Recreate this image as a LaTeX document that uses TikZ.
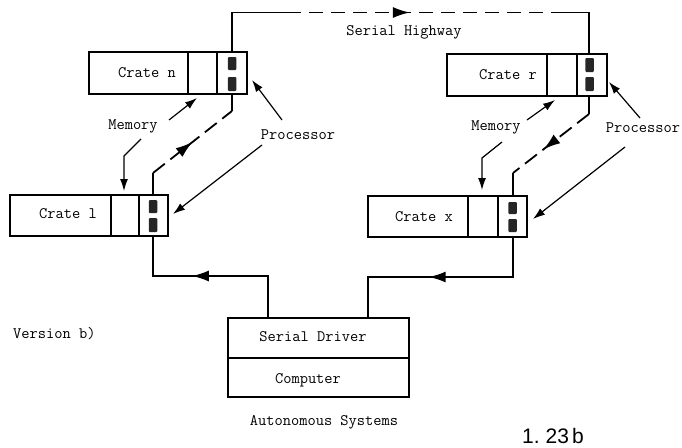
\documentclass[tikz,border=0pt]{standalone}
\usepackage{fontspec}
\newfontfamily\figfont{Liberation Sans}
\usetikzlibrary{arrows.meta,decorations.markings}
\begin{document}
\begin{tikzpicture}[x=1pt,y=-1pt,
  box/.style={draw,line width=1.3pt,inner sep=0pt},
  lbl/.style={font=\fontsize{16}{19}\selectfont\ttfamily,inner sep=0pt},
  port/.style={fill=black!85,rounded corners=1pt,minimum width=8.5pt,inner sep=0pt},
  wire/.style={line width=1.8pt},
  dwire/.style={wire,dash pattern=on 14pt off 8pt},
  ptr/.style={line width=1.2pt,-{Latex[length=12pt,width=8pt]}},
  midarrow/.style={postaction={decorate},decoration={markings,
    mark=at position #1 with {\arrow{Latex[length=17pt,width=11pt]}}}}
]
\useasboundingbox (0,0) rectangle (682,447);

% ---------- crates ----------
% Crate n
\node[box,minimum width=158pt,minimum height=42pt] (cn) at (168,73) {};
\node[box,minimum width=29pt,minimum height=42pt] (cnm) at (202.5,73) {};
\node[box,minimum width=30pt,minimum height=42pt] (cnp) at (232,73) {};
\node[lbl] (cnt) at (147,73) {Crate n};
\node[port,minimum height=13pt] (cnp1) at (232,63.5) {};
\node[port,minimum height=14pt] (cnp2) at (232,84) {};
% Crate r
\node[box,minimum width=160pt,minimum height=42pt] (cr) at (527,75) {};
\node[box,minimum width=30pt,minimum height=42pt] (crm) at (562,75) {};
\node[box,minimum width=30pt,minimum height=42pt] (crp) at (592,75) {};
\node[lbl] (crt) at (508,75) {Crate r};
\node[port,minimum height=14pt] (crp1) at (589.5,65) {};
\node[port,minimum height=14pt] (crp2) at (589.5,84) {};
% Crate 1
\node[box,minimum width=158pt,minimum height=41pt] (c1) at (89,215.5) {};
\node[box,minimum width=28pt,minimum height=41pt] (c1m) at (125,215.5) {};
\node[box,minimum width=29pt,minimum height=41pt] (c1p) at (153.5,215.5) {};
\node[lbl] (c1t) at (68,214) {Crate l};
\node[port,minimum height=13pt] (c1p1) at (153,206.5) {};
\node[port,minimum height=14pt] (c1p2) at (153,225) {};
% Crate x
\node[box,minimum width=159pt,minimum height=41pt] (cx) at (447.5,216.5) {};
\node[box,minimum width=30pt,minimum height=41pt] (cxm) at (483,216.5) {};
\node[box,minimum width=29pt,minimum height=41pt] (cxp) at (512.5,216.5) {};
\node[lbl] (cxt) at (424,217) {Crate x};
\node[port,minimum height=12pt] (cxp1) at (512.5,208) {};
\node[port,minimum height=13pt] (cxp2) at (512.5,225.5) {};

% ---------- serial driver / computer ----------
\node[box,minimum width=181pt,minimum height=40pt] (drv) at (318.5,338) {};
\node[box,minimum width=181pt,minimum height=39pt] (cmp) at (318.5,377.5) {};
\node[lbl] (drvt) at (313,337) {Serial Driver};
\node[lbl] (cmpt) at (308,380) {Computer};

% ---------- texts ----------
\node[lbl] (hw) at (404,32) {Serial Highway};
\node[lbl] (memL) at (133,126) {Memory};
\node[lbl] (memR) at (496,127) {Memory};
\node[lbl] (proL) at (298,135) {Processor};
\node[lbl] (proR) at (643,128) {Processor};
\node[lbl,anchor=west] (ver) at (13,334) {Version b)};
\node[lbl] (auto) at (324,422) {Autonomous Systems};
\node[inner sep=0pt,anchor=base,font=\fontsize{21}{25}\selectfont\figfont] (fig) at (553,443) {1.\hspace{6pt}23\hspace{3pt}b};

% ---------- wire coordinates ----------
\coordinate (nTop) at (232,52);
\coordinate (nUp) at (232,12.5);
\coordinate (hwA) at (287,12.5);
\coordinate (hwB) at (560,12.5);
\coordinate (rUp) at (589,12.5);
\coordinate (rTop) at (589,54);

\coordinate (nBot) at (232,94);
\coordinate (nBend) at (232,111);
\coordinate (oneBend) at (153,173);
\coordinate (oneTop) at (153,195);

\coordinate (rBot) at (589,96);
\coordinate (rBend) at (589,114);
\coordinate (xBend) at (513,173);
\coordinate (xTop) at (513,196);

\coordinate (oneBot) at (153,236);
\coordinate (oneLow) at (153,276);
\coordinate (dL) at (268,318);
\coordinate (dLup) at (268,276);

\coordinate (xBot) at (513,237);
\coordinate (xLow) at (513,277);
\coordinate (dR) at (368,318);
\coordinate (dRup) at (368,277);

% ---------- serial highway ----------
\draw[wire] (nTop) -- (nUp) -- (hwA);
\draw[dwire,midarrow=0.45] (hwA) -- (hwB);
\draw[wire] (hwB) -- (rUp) -- (rTop);

% crate 1 -> crate n
\draw[wire] (oneTop) -- (oneBend);
\draw[dwire,dash pattern=on 15pt off 7pt,midarrow=0.5] (oneBend) -- (nBend);
\draw[wire] (nBend) -- (nBot);

% crate r -> crate x
\draw[wire] (rBot) -- (rBend);
\draw[dwire,dash pattern=on 15pt off 7pt,midarrow=0.6] (rBend) -- (xBend);
\draw[wire] (xBend) -- (xTop);

% driver -> crate 1
\draw[wire,midarrow=0.6] (dL) -- (dLup) -- (oneLow) -- (oneBot);
% crate x -> driver
\draw[wire,midarrow=0.55] (xBot) -- (xLow) -- (dRup) -- (dR);

% ---------- pointer arrows ----------
\coordinate (mL1s) at (169,120);
\coordinate (mL1t) at (197,98);
\coordinate (mL2s) at (141,139);
\coordinate (mL2b) at (124,156);
\coordinate (mL2t) at (124,191);
\draw[ptr] (mL1s) -- (mL1t);
\draw[ptr] (mL2s) -- (mL2b) -- (mL2t);

\coordinate (pL1s) at (282,120);
\coordinate (pL1t) at (252,80);
\coordinate (pL2s) at (262,145);
\coordinate (pL2t) at (173,214);
\draw[ptr] (pL1s) -- (pL1t);
\draw[ptr] (pL2s) -- (pL2t);

\coordinate (mR1s) at (527,120);
\coordinate (mR1t) at (555,100);
\coordinate (mR2s) at (502,142);
\coordinate (mR2b) at (482,158);
\coordinate (mR2t) at (482,190);
\draw[ptr] (mR1s) -- (mR1t);
\draw[ptr] (mR2s) -- (mR2b) -- (mR2t);

\coordinate (pR1s) at (640,118);
\coordinate (pR1t) at (609,82);
\coordinate (pR2s) at (625,147);
\coordinate (pR2t) at (533,219);
\draw[ptr] (pR1s) -- (pR1t);
\draw[ptr] (pR2s) -- (pR2t);
\end{tikzpicture}
\end{document}
